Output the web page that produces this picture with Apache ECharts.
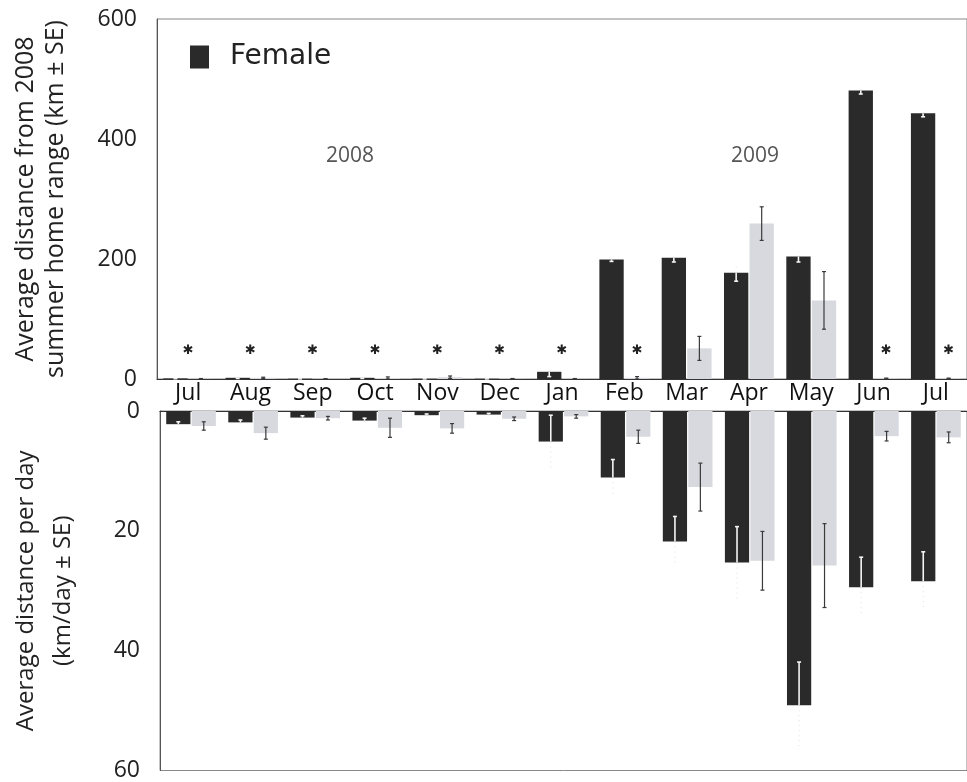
<!DOCTYPE html>
<html>
<head>
<meta charset="utf-8">
<script src="https://cdn.jsdelivr.net/npm/echarts@6/dist/echarts.min.js"></script>
<style>html,body{margin:0;padding:0;background:#fff}#c{width:967px;height:782px}</style>
</head>
<body>
<div id="c"></div>
<script>
// ---- data ----
const months = ['Jul 2008','Aug 2008','Sep 2008','Oct 2008','Nov 2008','Dec 2008','Jan 2009','Feb 2009','Mar 2009','Apr 2009','May 2009','Jun 2009','Jul 2009'];
// distance from 2008 summer home range (km)
const distFemale   = [1, 2, 0.5, 2, 0.5, 0.5, 12, 199, 202, 177, 204, 481, 443];
const distFemaleSE = [0.5, 1, 0.3, 1, 0.3, 0.3, 8, 3, 7, 14, 9, 6, 6];
const distMale     = [0.5, 2, 0.3, 1.5, 3, 0.5, 0.5, 2, 51, 259, 131, 1, 1];
const distMaleSE   = [0.3, 1, 0.2, 2, 2, 0.3, 0.3, 2, 20, 28, 48, 0.5, 0.5];
// average distance per day (km/day)
const speedFemale   = [2.2, 1.9, 1.1, 1.6, 0.7, 0.6, 5.1, 11.1, 21.8, 25.3, 49.1, 29.4, 28.4];
const speedFemaleSE = [0.4, 0.4, 0.3, 0.4, 0.2, 0.2, 4.4, 3.0, 4.2, 6.0, 7.2, 5.0, 4.9];
const speedMale     = [2.5, 3.7, 1.2, 2.8, 2.9, 1.3, 0.9, 4.3, 12.7, 25.0, 25.8, 4.2, 4.4];
const speedMaleSE   = [0.7, 1.0, 0.3, 1.6, 0.8, 0.3, 0.3, 1.1, 4.0, 4.9, 7.0, 0.8, 0.9];
// significance markers: 'pair' = centred on month, 'male' = over male bar, '' = none
const sigMarks = ['pair','pair','pair','pair','pair','pair','pair','male','','','','male','male'];
const yearLabels = ['2008', '2009'];

// ---- styling ----
const FEMALE = '#2a2a2a';
const MALE = '#d8d9de';
const FONT = 'Open Sans';
const CAT_GAP = 0.2, BAR_GAP = 0.05;
const SIG_LEVEL = 48;

function sideOffset(api) {
  const band = api.size([1, 0])[0];
  const bw = band * (1 - CAT_GAP) / (2 + BAR_GAP);
  return bw * (1 + BAR_GAP) / 2;
}

function errRender(side, female) {
  return function (params, api) {
    const cat = api.value(0), m = api.value(1), se = api.value(2);
    const x = api.coord([cat, 0])[0] + side * sideOffset(api);
    const yMean = api.coord([cat, m])[1];
    const yIn = api.coord([cat, Math.max(m - se, 0)])[1];
    const yOut = api.coord([cat, m + se])[1];
    const cap = 2;
    const ch = [];
    if (female) {
      ch.push({type: 'line', shape: {x1: x, y1: yIn, x2: x, y2: yMean}, style: {stroke: '#f4f4f4', lineWidth: 1.6}});
      ch.push({type: 'line', shape: {x1: x - cap, y1: yIn, x2: x + cap, y2: yIn}, style: {stroke: '#f4f4f4', lineWidth: 1.6}});
      ch.push({type: 'line', shape: {x1: x, y1: yMean, x2: x, y2: yOut}, style: {stroke: '#dedede', lineWidth: 1, lineDash: [1, 4]}});
    } else {
      ch.push({type: 'line', shape: {x1: x, y1: yIn, x2: x, y2: yOut}, style: {stroke: '#3a3a3a', lineWidth: 1.2}});
      ch.push({type: 'line', shape: {x1: x - cap, y1: yIn, x2: x + cap, y2: yIn}, style: {stroke: '#3a3a3a', lineWidth: 1.2}});
      ch.push({type: 'line', shape: {x1: x - cap, y1: yOut, x2: x + cap, y2: yOut}, style: {stroke: '#3a3a3a', lineWidth: 1.2}});
    }
    return {type: 'group', children: ch};
  };
}

function sigRender(params, api) {
  const cat = api.value(0);
  const kind = sigMarks[cat];
  const p = api.coord([cat, SIG_LEVEL]);
  const x = p[0] + (kind === 'male' ? sideOffset(api) : 0);
  return {type: 'text', x: x, y: p[1], style: {text: '✱', fill: '#222', font: 'bold 13px DejaVu Sans', align: 'center', verticalAlign: 'middle'}};
}

const idx = months.map((_, i) => i);
const err = (vals, ses) => idx.map(i => [i, vals[i], ses[i]]);
const sigData = idx.filter(i => sigMarks[i] !== '').map(i => [i, SIG_LEVEL]);

const chart = echarts.init(document.getElementById('c'), null, {renderer: 'canvas'});
chart.setOption({
  animation: false,
  backgroundColor: '#fff',
  textStyle: {fontFamily: FONT},
  legend: {
    data: [{name: 'Female', icon: 'rect'}],
    left: 185, top: 38, itemWidth: 19, itemHeight: 23,
    textStyle: {fontFamily: 'DejaVu Sans', fontSize: 28, color: '#222', padding: [0, 0, 0, 16]}
  },
  graphic: [
    {type: 'text', left: 326, top: 146, style: {text: yearLabels[0], font: '21px ' + FONT, fill: '#555'}},
    {type: 'text', left: 731, top: 146, style: {text: yearLabels[1], font: '21px ' + FONT, fill: '#555'}}
  ],
  grid: [
    {left: 157, right: -10, top: 19, height: 360, show: true, borderColor: '#888', borderWidth: 1},
    {left: 157, right: -10, top: 411, height: 361, show: true, borderColor: '#888', borderWidth: 1}
  ],
  xAxis: [
    {type: 'category', gridIndex: 0, data: months, position: 'bottom',
     axisLine: {lineStyle: {color: '#333', width: 1.2}},
     axisTick: {inside: true, length: 7, lineStyle: {color: '#444'}},
     axisLabel: {margin: 3, fontSize: 23, color: '#111', fontFamily: FONT, formatter: v => v.split(' ')[0]}},
    {type: 'category', gridIndex: 1, data: months, position: 'top',
     axisLine: {lineStyle: {color: '#333', width: 1.2}},
     axisTick: {inside: true, length: 5, lineStyle: {color: '#444'}},
     axisLabel: {show: false}}
  ],
  yAxis: [
    {type: 'value', gridIndex: 0, min: 0, max: 600, interval: 100,
     name: 'Average distance from 2008\nsummer home range (km ± SE)', nameLocation: 'middle', nameGap: 86,
     nameTextStyle: {fontSize: 25, color: '#222', lineHeight: 30, fontFamily: FONT},
     axisLine: {show: true, lineStyle: {color: '#555'}},
     axisTick: {inside: true, length: 5, lineStyle: {color: '#555'}},
     splitLine: {show: false},
     axisLabel: {margin: 20, fontSize: 23, color: '#222', fontFamily: FONT, formatter: v => (v % 200 === 0 ? String(v) : '')}},
    {type: 'value', gridIndex: 1, min: 0, max: 60, interval: 10, inverse: true,
     name: 'Average distance per day\n(km/day ± SE)', nameLocation: 'middle', nameGap: 78,
     nameTextStyle: {fontSize: 24, color: '#222', lineHeight: 37, fontFamily: FONT},
     axisLine: {show: true, lineStyle: {color: '#555'}},
     axisTick: {inside: true, length: 5, lineStyle: {color: '#555'}},
     splitLine: {show: false},
     axisLabel: {margin: 20, fontSize: 23, color: '#222', fontFamily: FONT, formatter: v => (v % 20 === 0 ? String(v) : '')}}
  ],
  series: [
    {name: 'Female', type: 'bar', xAxisIndex: 0, yAxisIndex: 0, data: distFemale, itemStyle: {color: FEMALE}},
    {name: 'Male', type: 'bar', xAxisIndex: 0, yAxisIndex: 0, data: distMale, itemStyle: {color: MALE},
     barGap: (BAR_GAP * 100) + '%', barCategoryGap: (CAT_GAP * 100) + '%'},
    {name: 'Female', type: 'bar', xAxisIndex: 1, yAxisIndex: 1, data: speedFemale, itemStyle: {color: FEMALE}},
    {name: 'Male', type: 'bar', xAxisIndex: 1, yAxisIndex: 1, data: speedMale, itemStyle: {color: MALE},
     barGap: (BAR_GAP * 100) + '%', barCategoryGap: (CAT_GAP * 100) + '%'},
    {name: 'errF1', type: 'custom', xAxisIndex: 0, yAxisIndex: 0, data: err(distFemale, distFemaleSE), renderItem: errRender(-1, true), encode: {x: 0, y: 1}, z: 5, clip: false},
    {name: 'errM1', type: 'custom', xAxisIndex: 0, yAxisIndex: 0, data: err(distMale, distMaleSE), renderItem: errRender(1, false), encode: {x: 0, y: 1}, z: 5, clip: false},
    {name: 'errF2', type: 'custom', xAxisIndex: 1, yAxisIndex: 1, data: err(speedFemale, speedFemaleSE), renderItem: errRender(-1, true), encode: {x: 0, y: 1}, z: 5, clip: false},
    {name: 'errM2', type: 'custom', xAxisIndex: 1, yAxisIndex: 1, data: err(speedMale, speedMaleSE), renderItem: errRender(1, false), encode: {x: 0, y: 1}, z: 5, clip: false},
    {name: 'sig', type: 'custom', xAxisIndex: 0, yAxisIndex: 0, data: sigData, renderItem: sigRender, encode: {x: 0, y: 1}, z: 6}
  ]
});
</script>
</body>
</html>
